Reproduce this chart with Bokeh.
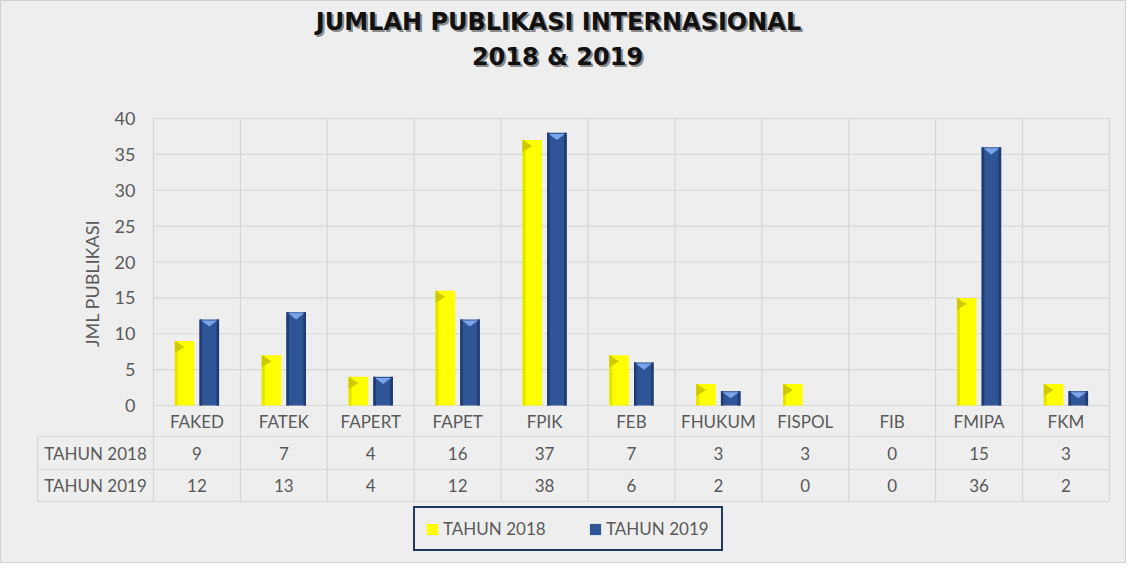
import numpy as np
from bokeh.plotting import figure
from bokeh.models import ColumnDataSource, Range1d, FixedTicker, Legend, LegendItem
from bokeh.core.properties import value
from bokeh.transform import dodge
from bokeh.embed import file_html
from bokeh.resources import INLINE

# ---------------- data ----------------
categories = ["FAKED", "FATEK", "FAPERT", "FAPET", "FPIK", "FEB",
              "FHUKUM", "FISPOL", "FIB", "FMIPA", "FKM"]
tahun_2018 = [9, 7, 4, 16, 37, 7, 3, 3, 0, 15, 3]
tahun_2019 = [12, 13, 4, 12, 38, 6, 2, 0, 0, 36, 2]
series_names = ["TAHUN 2018", "TAHUN 2019"]
y_ticks = [0, 5, 10, 15, 20, 25, 30, 35, 40]
title_lines = ["JUMLAH PUBLIKASI INTERNASIONAL", "2018 & 2019"]
y_title = "JML PUBLIKASI"

# ---------------- layout ----------------
W, H = 1126, 563
PX_X = 86.9     # px per category
PX_Y = 7.175    # px per unit
X0 = 153        # canvas px of category-area left
Y0 = 405        # canvas px of value 0

def dx(px):
    return (px - X0) / PX_X

def dy(px):
    return (Y0 - px) / PX_Y

BG = "#eeeeee"
GRID = "#d6d6d6"
TXT = "#595959"
FONT = value("Lato")
YEL, YEL_D = "#ffff00", "#cfca00"
BLU, BLU_L, BLU_D = "#2f5597", "#79a6ea", "#1f3c74"
BAR_W = 0.225
OFF = 0.142

n = len(categories)
xc = np.arange(n) + 0.5
ymax = max(y_ticks)

p = figure(width=W, height=H, output_backend="svg", toolbar_location=None,
           title=None, x_axis_location=None,
           x_range=Range1d(dx(0), dx(W)), y_range=Range1d(dy(H), dy(0)),
           min_border_left=0, min_border_right=0, min_border_top=0, min_border_bottom=0)
p.background_fill_color = BG
p.border_fill_color = BG
p.outline_line_color = "#d0d0d0"
p.xgrid.visible = False
p.ygrid.visible = False

ax = p.yaxis[0]
ax.fixed_location = 0
ax.ticker = FixedTicker(ticks=y_ticks)
ax.axis_line_color = None
ax.major_tick_line_color = None
ax.minor_tick_line_color = None
ax.major_label_standoff = 12
ax.major_label_text_font = "Lato"
ax.major_label_text_font_size = "18px"
ax.major_label_text_color = TXT

# horizontal gridlines (value ticks)
p.segment(x0=[0] * len(y_ticks), x1=[n] * len(y_ticks), y0=y_ticks, y1=y_ticks,
          line_color=GRID, line_width=1.2)
# category boundaries through plot and table
tb = dy(501)
p.segment(x0=list(range(n + 1)), x1=list(range(n + 1)), y0=[ymax] * (n + 1), y1=[tb] * (n + 1),
          line_color=GRID, line_width=1.2)
# table rows
hx = dx(37)
row_lines = [dy(436), dy(469), dy(501)]
p.segment(x0=[hx] * 3, x1=[n] * 3, y0=row_lines, y1=row_lines, line_color=GRID, line_width=1.2)
p.segment(x0=[hx], x1=[hx], y0=[row_lines[0]], y1=[tb], line_color=GRID, line_width=1.2)

# bars
src = ColumnDataSource(dict(x=xc, cat=categories, t18=tahun_2018, t19=tahun_2019))
r18 = p.vbar(x=dodge("x", -OFF), top="t18", width=BAR_W, source=src,
             fill_color=YEL, line_color=None)
r19 = p.vbar(x=dodge("x", OFF), top="t19", width=BAR_W, source=src,
             fill_color=BLU, line_color=None)

# bevel decorations computed from the values
def edges(vals, off, side_w, left=True):
    xs, tops = [], []
    for i, v in enumerate(vals):
        if v > 0:
            xl = i + 0.5 + off - BAR_W / 2
            xs.append(xl + side_w / 2 if left else xl + BAR_W - side_w / 2)
            tops.append(v)
    return xs, tops

ex, et = edges(tahun_2018, -OFF, 0.035, True)
p.vbar(x=ex, top=et, width=0.035, fill_color="#e4e400", line_color=None)
ex, et = edges(tahun_2019, OFF, 0.03, True)
p.vbar(x=ex, top=et, width=0.03, fill_color=BLU_D, line_color=None)
ex, et = edges(tahun_2019, OFF, 0.03, False)
p.vbar(x=ex, top=et, width=0.03, fill_color=BLU_D, line_color=None)

ys_, xs_ = [], []
for i, v in enumerate(tahun_2018):
    if v > 0:
        xl = i + 0.5 - OFF - BAR_W / 2
        xs_.append([xl, xl + BAR_W * 0.5, xl])
        ys_.append([v, v - 0.85, v - 1.7])
p.patches(xs=xs_, ys=ys_, fill_color=YEL_D, line_color=None)

ys_, xs_ = [], []
for i, v in enumerate(tahun_2019):
    if v > 0:
        xl = i + 0.5 + OFF - BAR_W / 2
        xs_.append([xl + 0.02, xl + BAR_W - 0.02, xl + BAR_W / 2])
        ys_.append([v - 0.15, v - 0.15, v - 1.0])
p.patches(xs=xs_, ys=ys_, fill_color=BLU_L, line_color=None)

# category labels row and data table
p.text(x=xc, y=[dy(420.5)] * n, text=categories, text_align="center", text_baseline="middle",
       text_font=FONT, text_font_size="17px", text_color=TXT)
p.text(x=xc, y=[dy(452.5)] * n, text=[str(v) for v in tahun_2018], text_align="center",
       text_baseline="middle", text_font=FONT, text_font_size="17px", text_color=TXT)
p.text(x=xc, y=[dy(485)] * n, text=[str(v) for v in tahun_2019], text_align="center",
       text_baseline="middle", text_font=FONT, text_font_size="17px", text_color=TXT)
p.text(x=[dx(95)] * 2, y=[dy(452.5), dy(485)], text=series_names, text_align="center",
       text_baseline="middle", text_font=FONT, text_font_size="17px", text_color=TXT)

# y title
p.text(x=[dx(91)], y=[dy(283)], text=[y_title], angle=np.pi / 2, text_align="center",
       text_baseline="middle", text_font=FONT, text_font_size="18px", text_color=TXT)

# chart title with shadow
tx = [dx(558), dx(557)]
ty = [dy(21), dy(56)]
p.text(x=tx, y=ty, text=title_lines, x_offset=2, y_offset=2, text_align="center",
       text_baseline="middle", text_font=value("DejaVu Sans"), text_font_style="bold",
       text_font_size="24px", text_color="#8a8a8a")
p.text(x=tx, y=ty, text=title_lines, text_align="center",
       text_baseline="middle", text_font=value("DejaVu Sans"), text_font_style="bold",
       text_font_size="24px", text_color="#111111")

legend = Legend(items=[LegendItem(label=series_names[0], renderers=[r18]),
                       LegendItem(label=series_names[1], renderers=[r19])],
                location=(413, 12), orientation="horizontal",
                border_line_color="#1f3864", border_line_width=2, border_line_alpha=1,
                background_fill_color=BG, background_fill_alpha=1,
                label_text_font="Lato", label_text_font_size="17px", label_text_color=TXT,
                glyph_width=14, glyph_height=14, padding=10, spacing=40,
                label_width=105, label_standoff=4, margin=0)
p.add_layout(legend)

open("out.html", "w").write(file_html(p, INLINE))
